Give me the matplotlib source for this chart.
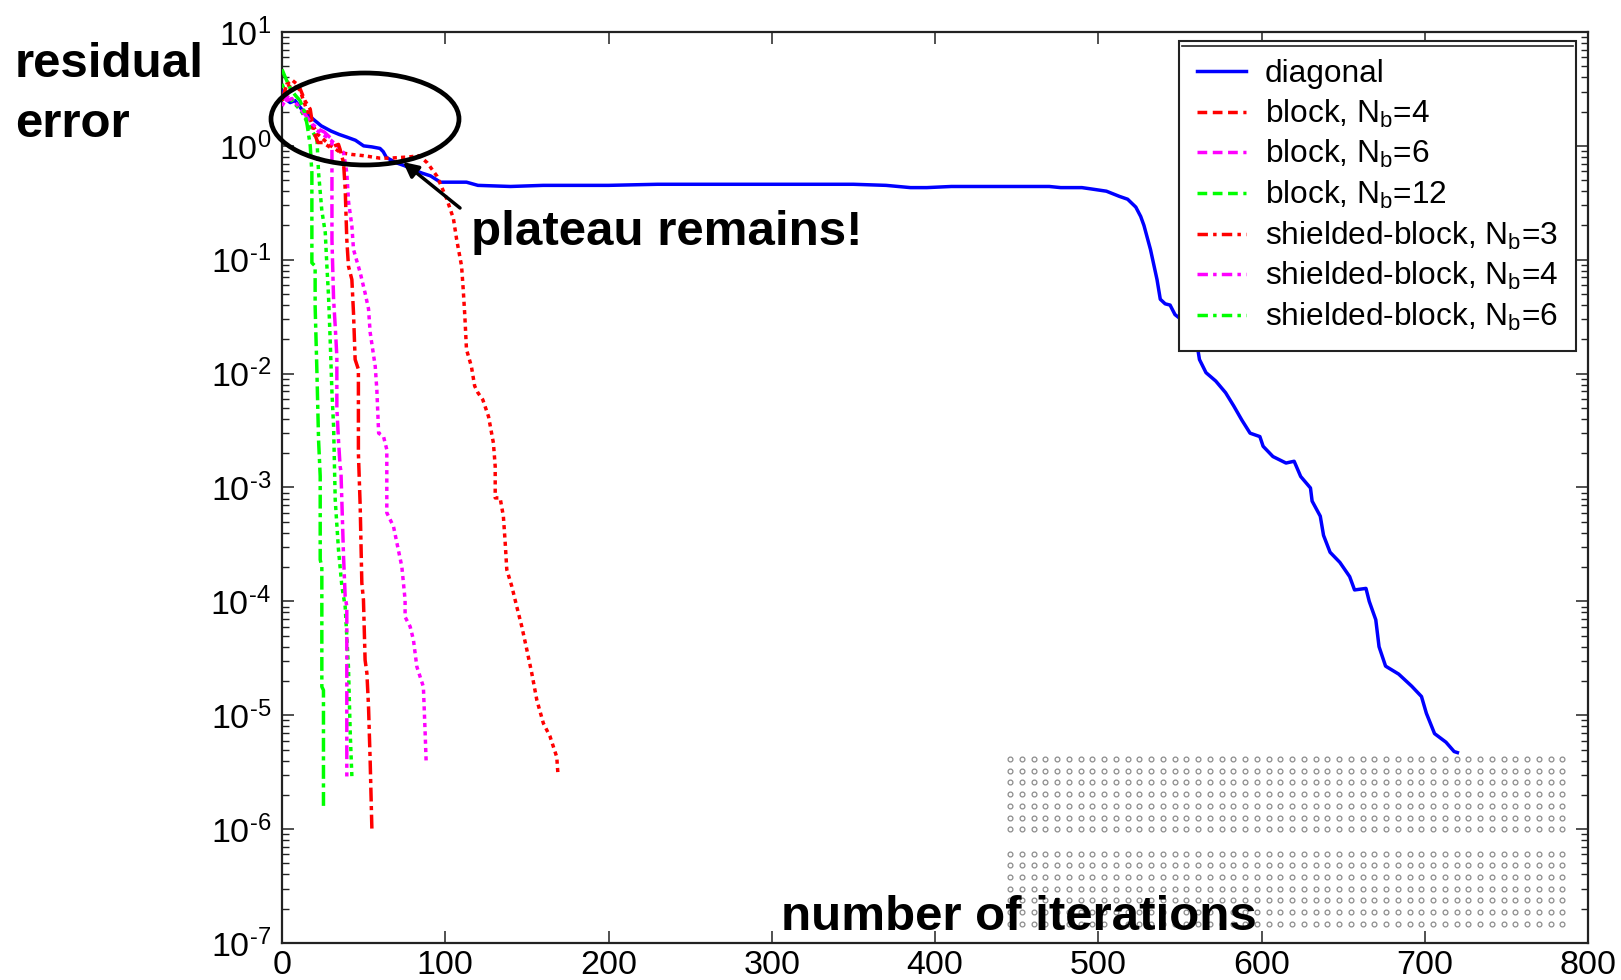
import numpy as np
import matplotlib
matplotlib.use('Agg')
import matplotlib.pyplot as plt
from matplotlib.lines import Line2D
from matplotlib.patches import Ellipse
from matplotlib.ticker import LogLocator, FuncFormatter, NullFormatter

plt.rcParams['font.family'] = ['Liberation Sans', 'DejaVu Sans']
plt.rcParams['mathtext.fontset'] = 'custom'
plt.rcParams['mathtext.rm'] = 'Liberation Sans'
plt.rcParams['mathtext.it'] = 'Liberation Sans'
plt.rcParams['mathtext.default'] = 'regular'

# residual history per preconditioner (iteration, residual)
diag_it = [0, 2, 5, 8, 12, 15, 19, 24, 30, 35, 40, 45, 50, 55, 60, 62, 64, 70, 75, 80,
           86, 91, 97, 105, 113, 120, 140, 160, 180, 200, 230, 260, 290, 320, 350, 370,
           385, 395, 410, 440, 470, 477, 490, 495, 505, 513, 518, 523, 526, 528, 532, 536,
           538, 541, 544, 547, 552, 557, 561, 562, 566, 572, 578, 583, 588, 593, 599, 601,
           607, 615, 620, 624, 630, 631, 636, 638, 642, 648, 654, 657, 664, 666, 670, 672,
           676, 684, 692, 698, 701, 706, 713, 718, 720]
diag_res = [3.0, 2.6, 2.4, 2.5, 2.1, 1.95, 1.72, 1.5, 1.35, 1.26, 1.19, 1.12, 1.0, 0.98,
            0.95, 0.89, 0.79, 0.71, 0.67, 0.62, 0.575, 0.545, 0.48, 0.48, 0.48, 0.45, 0.44,
            0.45, 0.45, 0.45, 0.46, 0.46, 0.46, 0.46, 0.46, 0.45, 0.43, 0.43, 0.44, 0.44,
            0.44, 0.43, 0.43, 0.42, 0.40, 0.36, 0.34, 0.29, 0.24, 0.20, 0.123, 0.067, 0.045,
            0.041, 0.040, 0.033, 0.029, 0.022, 0.0163, 0.0133, 0.0102, 0.0086, 0.0068,
            0.0052, 0.0039, 0.0030, 0.0028, 0.0023, 0.00187, 0.00164, 0.0017, 0.00125,
            0.00099, 0.00076, 0.00056, 0.00038, 0.00027, 0.00022, 0.000165, 0.000126,
            0.00013, 0.0001, 6.9e-5, 4.0e-5, 2.7e-5, 2.3e-5, 1.8e-5, 1.46e-5, 1.04e-5,
            6.9e-6, 5.8e-6, 4.8e-6, 4.7e-6]

blk4_it = [0, 3, 6, 9, 12, 15, 18, 22, 26, 30, 36, 43, 50, 60, 66, 72, 78, 84, 89, 95,
           101, 105, 107, 110, 111, 112, 113, 116, 118, 120, 123, 126.5, 129.5, 130.6,
           130.6, 133.6, 135.6, 136.7, 137.7, 140.8, 143.8, 146.9, 150, 153, 156.1, 160.1,
           164.2, 168.3, 169]
blk4_res = [2.5, 3.5, 3.8, 3.5, 2.8, 2.1, 1.6, 1.26, 1.12, 1.0, 0.87, 0.84, 0.82, 0.78,
            0.78, 0.79, 0.80, 0.82, 0.71, 0.54, 0.34, 0.23, 0.15, 0.088, 0.055, 0.032,
            0.0163, 0.0116, 0.0078, 0.0068, 0.0059, 0.0042, 0.00246, 0.00153, 0.00081,
            0.00081, 0.00056, 0.00033, 0.00019, 0.000135, 9.0e-5, 6.0e-5, 3.75e-5,
            2.34e-5, 1.36e-5, 8.5e-6, 6.5e-6, 4.3e-6, 3.1e-6]

blk6_it = [0, 4, 8, 12, 16, 20, 25, 30, 34, 37.7, 39.7, 40.8, 42.8, 43.8, 47.9, 50.9, 53,
           54, 57.1, 58.1, 59.2, 62.2, 64.2, 64.2, 68.3, 70.4, 73.4, 75.4, 75.4, 78.5,
           80.5, 82.6, 86.6, 87.7, 88.3]
blk6_res = [2.24, 2.8, 2.4, 2.0, 1.66, 1.41, 1.26, 1.12, 1.0, 0.87, 0.58, 0.32, 0.198,
            0.123, 0.077, 0.051, 0.037, 0.023, 0.0116, 0.0072, 0.0030, 0.0028, 0.00215,
            0.0006, 0.000455, 0.000325, 0.000202, 0.000103, 7.3e-5, 6.0e-5, 4.6e-5,
            2.67e-5, 1.78e-5, 6.9e-6, 3.9e-6]

blk12_it = [0, 3, 6, 9, 12, 15, 18, 21.4, 22.4, 24.4, 26.5, 27.5, 28.5, 29.5, 30.6, 31.6,
            32.6, 34.6, 36.7, 38.7, 40.7, 41.8, 42.8]
blk12_res = [3.5, 2.8, 2.5, 2.24, 2.0, 1.66, 1.38, 1.15, 0.58, 0.27, 0.173, 0.088, 0.048,
             0.02, 0.0068, 0.00345, 0.00078, 0.000284, 0.000135, 9.0e-5, 2.67e-5, 6.9e-6,
             2.9e-6]

sh3_it = [0, 3, 6, 9, 11, 14, 17.3, 19.3, 22, 25, 29.5, 34.6, 35.6, 37.7, 38.7, 39.7,
          40.7, 42.8, 43.8, 44.8, 46.8, 46.8, 47.9, 48.9, 49.9, 50.9, 52, 53, 54, 55.1]
sh3_res = [2.5, 3.5, 3.2, 3.3, 3.2, 2.5, 2.1, 1.35, 1.07, 1.07, 0.97, 1.03, 0.93, 0.71,
           0.42, 0.15, 0.088, 0.067, 0.034, 0.0133, 0.0109, 0.002, 0.00068, 0.000145,
           0.000103, 3.05e-5, 2.34e-5, 1.19e-5, 4.0e-6, 9.5e-7]

sh4_it = [0, 3, 6, 10, 14, 18, 22, 26, 29, 30.6, 30.6, 31.6, 32.6, 33.6, 33.6, 34.6, 35.6,
          36.1, 37.7, 38.7, 39.7, 39.7]
sh4_res = [2.8, 2.5, 2.6, 2.24, 1.9, 1.58, 1.41, 1.32, 1.2, 1.15, 0.15, 0.045, 0.026,
           0.0142, 0.005, 0.0026, 0.00153, 0.0014, 0.000248, 0.00011, 9.0e-5, 2.9e-6]

sh6_it = [0, 2, 5, 8, 11, 14, 15.5, 17.3, 18.3, 18.3, 18.3, 20.3, 20.3, 21.4, 22.4, 23.4,
          23.4, 24.4, 24.4, 25.4, 25.4]
sh6_res = [4.7, 4.0, 3.2, 2.8, 2.5, 1.95, 1.5, 1.0, 0.58, 0.21, 0.094, 0.088, 0.039,
           0.0102, 0.0026, 0.00126, 0.000232, 0.000202, 1.78e-5, 1.66e-5, 1.6e-6]

labels = ['diagonal', r'block, N$_b$=4', r'block, N$_b$=6', r'block, N$_b$=12',
          r'shielded-block, N$_b$=3', r'shielded-block, N$_b$=4', r'shielded-block, N$_b$=6']
colors = ['#0000ff', '#ff0000', '#ff00ff', '#00ff00', '#ff0000', '#ff00ff', '#00ff00']

W, H = 1621, 980
fig = plt.figure(figsize=(W / 100, H / 100), dpi=100)
ax = fig.add_axes([282 / W, 1 - 943 / H, 1306 / W, 911 / H])

dotted = (0, (1.2, 1.2))
dashdot = (0, (4.0, 1.3, 1.2, 1.3))
series = [(diag_it, diag_res, '-'), (blk4_it, blk4_res, dotted),
          (blk6_it, blk6_res, dotted), (blk12_it, blk12_res, dotted),
          (sh3_it, sh3_res, dashdot), (sh4_it, sh4_res, dashdot),
          (sh6_it, sh6_res, dashdot)]
for (xs, ys, ls), c in zip(series, colors):
    ax.plot(xs, ys, color=c, lw=2.5, linestyle=ls, zorder=3)


def decade_label(v, pos):
    e = int(round(np.log10(v)))
    sign = '\u2010' if e < 0 else ''
    return r'$10^{%s%d}$' % (sign, abs(e))


ax.set_yscale('log')
ax.set_xlim(0, 800)
ax.set_ylim(1e-7, 1e1)
ax.set_xticks(np.arange(0, 801, 100))
ax.yaxis.set_major_locator(LogLocator(base=10, numticks=20))
ax.yaxis.set_major_formatter(FuncFormatter(decade_label))
ax.yaxis.set_minor_locator(LogLocator(base=10, subs=np.arange(2, 10), numticks=100))
ax.yaxis.set_minor_formatter(NullFormatter())
ax.tick_params(which='both', direction='in', top=True, right=True, color='#222222')
ax.tick_params(which='major', length=8.6, width=1.1, labelsize=24.5)
ax.tick_params(which='minor', length=5, width=1.0)
ax.tick_params(axis='y', pad=8)
ax.tick_params(axis='x', pad=5)
for s in ax.spines.values():
    s.set_color('#222222')
    s.set_linewidth(1.6)

# legend: dashed for block, dash-dot for shielded-block
leg_styles = ['-', (0, (2.8, 1.6)), (0, (2.8, 1.6)), (0, (2.8, 1.6)),
              (0, (3.0, 1.5, 1.0, 1.5)), (0, (3.0, 1.5, 1.0, 1.5)), (0, (3.0, 1.5, 1.0, 1.5))]
handles = [Line2D([], [], color=c, lw=2.5, linestyle=ls) for c, ls in zip(colors, leg_styles)]
leg = ax.legend(handles, labels, loc='upper right', bbox_to_anchor=(0.991, 0.990),
                borderaxespad=0, fontsize=22.8, handlelength=1.55, handletextpad=0.6,
                labelspacing=0.27, borderpad=0.57, fancybox=False, framealpha=1)
leg.get_frame().set_edgecolor('#222222')
leg.get_frame().set_linewidth(1.5)
leg.set_zorder(5)

# dot pattern in the lower right corner
gx = np.arange(1010, 1570, 11.75)
gy = np.concatenate([np.arange(759, 831, 11.7), np.arange(853.5, 926, 11.7)])
GX, GY = np.meshgrid(gx, gy)
ax.scatter(GX.ravel() / W, 1 - GY.ravel() / H, s=12, facecolors='white',
           edgecolors='#8c8c8c', linewidths=0.9, transform=fig.transFigure, zorder=2)

# annotations
bold = dict(fontsize=35.5, fontweight='bold', color='black')
fig.text(15 / W, 1 - 77 / H, 'residual', va='baseline', ha='left', **bold)
fig.text(15 / W, 1 - 137 / H, 'error', va='baseline', ha='left', **bold)
fig.text(781 / W, 1 - 930 / H, 'number of iterations', va='baseline', ha='left', zorder=4, **bold)
fig.text(471 / W, 1 - 245 / H, 'plateau remains!', va='baseline', ha='left', **bold)

ax.add_patch(Ellipse((365 / W, 1 - 119 / H), 188 / W, 92 / H, transform=fig.transFigure,
                     fill=False, edgecolor='black', lw=3.4, zorder=4, clip_on=False))
ax.annotate('', xy=(403 / W, 1 - 162 / H), xytext=(460 / W, 1 - 208 / H),
            xycoords='figure fraction', textcoords='figure fraction',
            arrowprops=dict(arrowstyle='-|>,head_length=0.9,head_width=0.45',
                            color='black', lw=2.5, shrinkA=0, shrinkB=0), zorder=4)

# second rule just under the top edge of the legend box
fig.canvas.draw()
bb = leg.get_window_extent()
fig.add_artist(Line2D([bb.x0 + 3, bb.x1 - 3], [bb.y1 - 5, bb.y1 - 5], color='#222222',
                      lw=1.2, transform=None, zorder=6))

fig.savefig('out.png', dpi=100, facecolor='white')
